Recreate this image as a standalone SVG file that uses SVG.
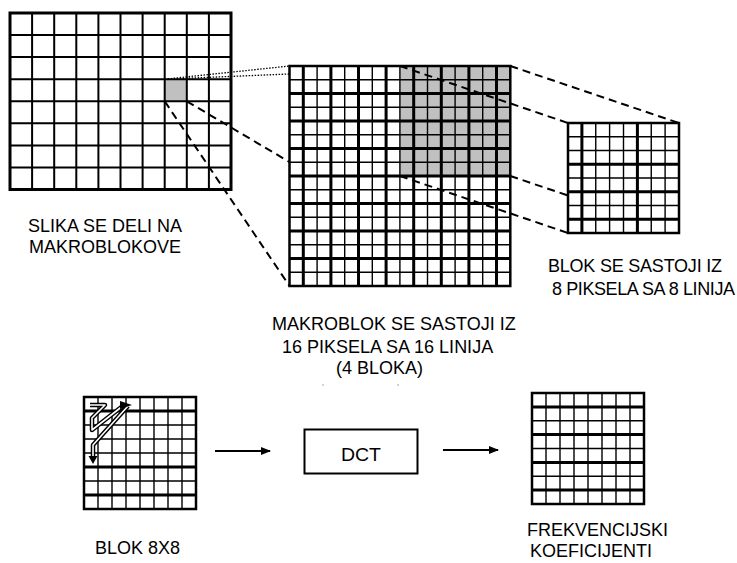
<svg xmlns="http://www.w3.org/2000/svg" width="737" height="563" viewBox="0 0 737 563">
<style>
.t{font-family:"Liberation Sans",Arial,sans-serif;font-size:18px;fill:#000}
.frame{fill:#fff;stroke:#000;stroke-width:2.5}
.thin{fill:none;stroke:#000;stroke-width:1.4}
.thick{fill:none;stroke:#000;stroke-width:3}
.mid{fill:none;stroke:#000;stroke-width:2}
.gray{fill:#c0c0c0}
.dash{fill:none;stroke:#000;stroke-width:2;stroke-dasharray:8 5}
.dot{fill:none;stroke:#000;stroke-width:1.3;stroke-dasharray:1.5 1.5}
.arr{fill:none;stroke:#000;stroke-width:2}
</style>
<defs>
<marker id="ah" markerWidth="10" markerHeight="8" refX="9" refY="4" orient="auto" markerUnits="userSpaceOnUse">
<path d="M0,0 L10,4 L0,8 Z" fill="#000"/>
</marker>
</defs>
<rect width="737" height="563" fill="#fff"/>

<g id="image-grid">
<rect x="10" y="13" width="221" height="176.5" fill="#fff"/>
<rect class="gray" x="164.7" y="79.2" width="22.1" height="22.1"/>
<path class="mid" d="M32.1,13V189.5M54.2,13V189.5M76.3,13V189.5M98.4,13V189.5M120.5,13V189.5M142.6,13V189.5M164.7,13V189.5M186.8,13V189.5M208.9,13V189.5M10,35.1H231M10,57.1H231M10,79.2H231M10,101.3H231M10,123.3H231M10,145.4H231M10,167.4H231"/>
<rect x="10" y="13" width="221" height="176.5" fill="none" stroke="#000" stroke-width="3"/>
</g>

<g id="macroblock">
<rect x="289.5" y="66" width="220.8" height="220" fill="#fff"/>
<rect class="gray" x="399.9" y="66" width="110.4" height="110"/>
<path class="thin" d="M317.1,66V286M344.7,66V286M372.3,66V286M399.9,66V286M427.5,66V286M455.1,66V286M482.7,66V286M289.5,79.75H510.3M289.5,107.25H510.3M289.5,134.75H510.3M289.5,162.25H510.3M289.5,189.75H510.3M289.5,217.25H510.3M289.5,244.75H510.3M289.5,272.25H510.3"/>
<path class="thick" d="M303.3,66V286M330.9,66V286M358.5,66V286M386.1,66V286M413.7,66V286M441.3,66V286M468.9,66V286M496.5,66V286M289.5,93.5H510.3M289.5,121H510.3M289.5,148.5H510.3M289.5,176H510.3M289.5,203.5H510.3M289.5,231H510.3M289.5,258.5H510.3"/>
<rect x="289.5" y="66" width="220.8" height="220" fill="none" stroke="#000" stroke-width="2.5"/>
</g>

<g id="connectors">
<path class="dot" d="M164.7,79.2L289.5,66M164.7,79.2L289.5,74"/>
<path class="dash" d="M164.7,101.3L289.5,286M186.8,101.3L289.5,162"/>
<path class="dash" d="M399.9,66L568,123M510.3,66L679,123M399.9,176L568,233M510.3,176L679,233"/>
<path class="arr" d="M215,451H270" marker-end="url(#ah)"/>
<path class="arr" d="M443,450H498" marker-end="url(#ah)"/>
</g>

<g id="block">
<rect x="568" y="123" width="111" height="110" fill="#fff"/>
<path class="thin" d="M595.75,123V233M609.6,123V233M623.5,123V233M651.25,123V233M665.1,123V233M568,136.75H679M568,150.5H679M568,178H679M568,205.5H679"/>
<path class="thick" d="M581.9,123V233M637.4,123V233M568,164.25H679M568,191.75H679M568,219.25H679"/>
<rect x="568" y="123" width="111" height="110" fill="none" stroke="#000" stroke-width="2.5"/>
</g>

<g id="block-8x8">
<rect x="84" y="397" width="112" height="112" fill="#fff"/>
<path class="thin" d="M98,397V509M112,397V509M126,397V509M140,397V509M154,397V509M168,397V509M182,397V509M84,425H196M84,439H196M84,453H196M84,481H196"/>
<path class="thick" d="M84,411H196M84,467H196M84,495H196"/>
<rect x="84" y="397" width="112" height="112" fill="none" stroke="#000" stroke-width="2.5"/>
<path d="M90,405H105L92,418V430L124,405M128,406L93,445V458" fill="none" stroke="#000" stroke-width="4.5" stroke-linejoin="round"/>
<path d="M90,405H105L92,418V430L124,405M128,406L93,445V458" fill="none" stroke="#fff" stroke-width="1.6" stroke-linejoin="round"/>
<path d="M120,401L132,405L120,409Z" fill="#000"/>
<path d="M88.5,456L93,464L97.5,456Z" fill="#000"/>
</g>

<g id="dct">
<rect x="304.5" y="429.5" width="113" height="44" fill="#fff" stroke="#000" stroke-width="2"/>
<text class="t" x="361" y="461" text-anchor="middle" font-size="22" textLength="40" lengthAdjust="spacingAndGlyphs">DCT</text>
</g>

<g id="coefficients">
<rect x="532" y="393" width="112" height="111" fill="#fff"/>
<path class="thin" d="M546,393V504M560,393V504M574,393V504M588,393V504M602,393V504M616,393V504M630,393V504M532,420.75H644M532,448.5H644M532,476.25H644"/>
<path class="thick" d="M532,406.9H644M532,434.6H644M532,462.4H644M532,490.1H644"/>
<rect x="532" y="393" width="112" height="111" fill="none" stroke="#000" stroke-width="2.5"/>
</g>

<g id="labels">
<text class="t" x="105" y="232" text-anchor="middle">SLIKA SE DELI NA</text>
<text class="t" x="105" y="253" text-anchor="middle">MAKROBLOKOVE</text>
<text class="t" x="548" y="272" textLength="174">BLOK SE SASTOJI IZ</text>
<text class="t" x="552" y="295" textLength="183">8 PIKSELA SA 8 LINIJA</text>
<text class="t" x="272" y="330">MAKROBLOK SE SASTOJI IZ</text>
<text class="t" x="282" y="353">16 PIKSELA SA 16 LINIJA</text>
<text class="t" x="336" y="374">(4 BLOKA)</text>
<text class="t" x="95" y="554">BLOK 8X8</text>
<text class="t" x="527" y="536">FREKVENCIJSKI</text>
<text class="t" x="530" y="557">KOEFICIJENTI</text>
</g>
<circle cx="323" cy="385" r="0.8" fill="#999"/>
<circle cx="398" cy="385" r="0.8" fill="#999"/>
</svg>
